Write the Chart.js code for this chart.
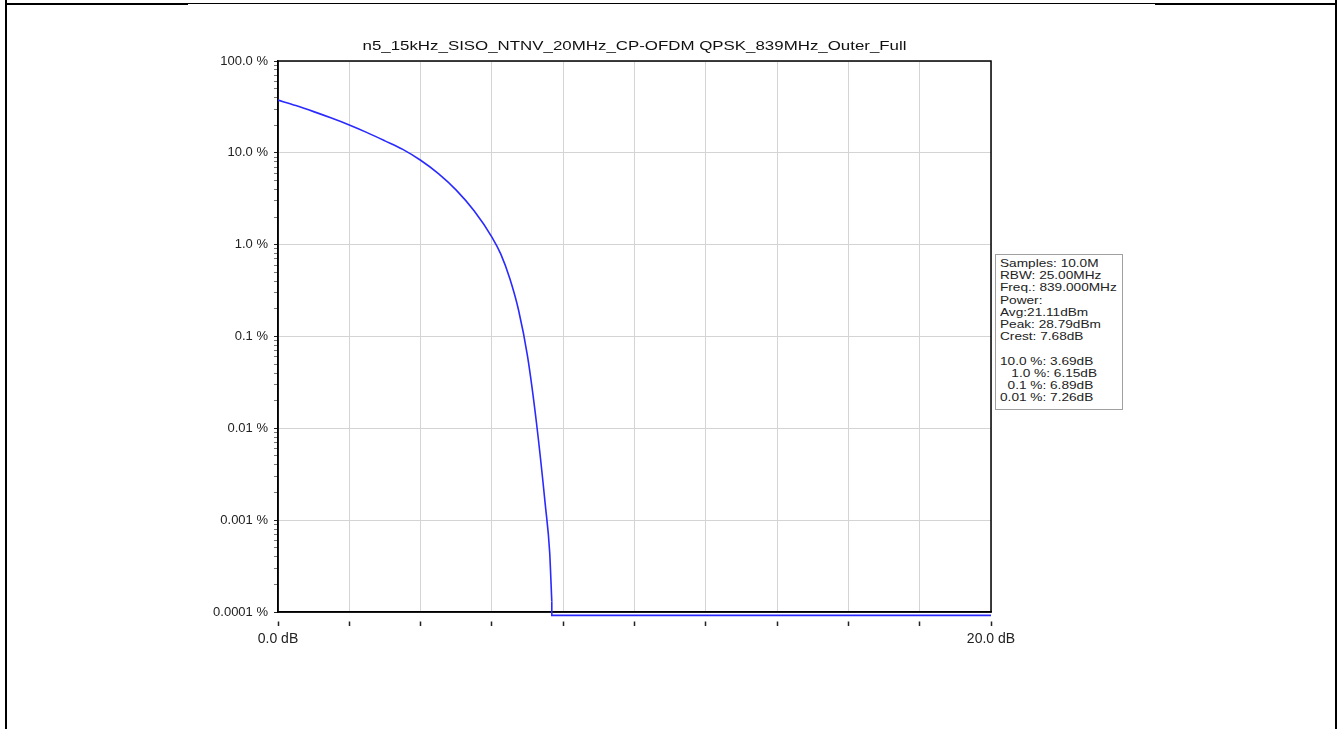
<!DOCTYPE html>
<html>
<head>
<meta charset="utf-8">
<title>CCDF</title>
<script src="https://cdn.jsdelivr.net/npm/chart.js@4/dist/chart.umd.min.js"></script>
<style>
    body { margin: 0; background: #fff; }
    #wrap { position: relative; width: 1338px; height: 729px; overflow: hidden; }
    #ccdfChart { position: absolute; left: 0; top: 0; }
    .edge { position: absolute; background: #000; }
    #infoBox {
        position: absolute; left: 995px; top: 254px; width: 126px; height: 154px;
        border: 1px solid #a0a0a0; background: #fff;
    }
    #infoText {
        position: absolute; left: 4px; top: 2px;
        font: 11px "Liberation Sans", Arial, sans-serif; line-height: 12.2px; color: #222;
        white-space: pre; transform: scaleX(1.24); transform-origin: 0 0;
    }
</style>
</head>
<body>
<div id="wrap">
    <canvas id="ccdfChart" width="1338" height="729"></canvas>
    <div class="edge" style="left:5px; top:0; width:2px; height:729px;"></div>
    <div class="edge" style="left:1335px; top:0; width:2px; height:729px;"></div>
    <div class="edge" style="left:5px; top:3px; width:183px; height:2px;"></div>
    <div class="edge" style="left:188px; top:3px; width:967px; height:1px;"></div>
    <div class="edge" style="left:1155px; top:3px; width:182px; height:2px;"></div>
    <div id="infoBox"><div id="infoText"></div></div>
</div>
<script>
// data
const chartTitle = 'n5_15kHz_SISO_NTNV_20MHz_CP-OFDM QPSK_839MHz_Outer_Full';

const ccdfDb  = [0, 0.5, 1, 1.5, 2, 2.5, 3, 3.5, 4, 4.5, 5, 5.5, 6, 6.25, 6.5, 6.75, 7, 7.25, 7.5, 7.62, 7.68];
const ccdfPct = [37.5, 32.7, 28.1, 23.9, 20.1, 16.6, 13.5, 10.9, 8.3, 5.94, 3.93, 2.34, 1.21, 0.788, 0.43, 0.192, 0.0608, 0.0115, 0.00144, 0.00045, 0.00013];

// drop to the floor after the peak, then flat to the end
const tailDb  = [7.68, 7.68, 20];
const tailPct = [0.00013, 0.000092, 0.000092];

const xTickValues = [0, 20];
const xTickLabels = ['0.0 dB', '20.0 dB'];
const yTicks      = [0.0001, 0.001, 0.01, 0.1, 1, 10, 100];
const yTickLabels = ['0.0001 %', '0.001 %', '0.01 %', '0.1 %', '1.0 %', '10.0 %', '100.0 %'];

const infoLines = [
    'Samples: 10.0M',
    'RBW: 25.00MHz',
    'Freq.: 839.000MHz',
    'Power:',
    'Avg:21.11dBm',
    'Peak: 28.79dBm',
    'Crest: 7.68dB',
    '',
    '10.0 %: 3.69dB',
    '   1.0 %: 6.15dB',
    '  0.1 %: 6.89dB',
    '0.01 %: 7.26dB'
];

document.getElementById('infoText').textContent = infoLines.join('\n');

function toPoints(xs, ys) {
    return xs.map(function (x, i) {
        return {x: x, y: ys[i]};
    });
}

// black box round the plot area + stretched title
const framePlugin = {
    id: 'frame',
    beforeDatasetsDraw: function (chart) {
        const a = chart.chartArea, ctx = chart.ctx;
        ctx.save();
        ctx.strokeStyle = '#000';
        ctx.lineWidth = 1.5;
        ctx.strokeRect(a.left, a.top, a.right - a.left, a.bottom - a.top);
        ctx.restore();
    },
    afterDraw: function (chart) {
        const a = chart.chartArea, ctx = chart.ctx;
        ctx.save();
        ctx.font = '13px "Liberation Sans", Arial, sans-serif';
        ctx.fillStyle = '#111';
        ctx.textBaseline = 'alphabetic';
        ctx.textAlign = 'center';
        const w = ctx.measureText(chartTitle).width;
        const sx = 544 / w;
        ctx.translate((a.left + a.right) / 2, 50);
        ctx.scale(sx, 1);
        ctx.fillText(chartTitle, 0, 0);
        ctx.restore();
    }
};

const ctx = document.getElementById('ccdfChart').getContext('2d');
new Chart(ctx, {
    type: 'line',
    data: {
        datasets: [{
            data: toPoints(ccdfDb, ccdfPct),
            borderColor: '#2a2aff',
            borderWidth: 1.6,
            pointRadius: 0,
            cubicInterpolationMode: 'monotone',
            fill: false
        }, {
            data: toPoints(tailDb, tailPct),
            borderColor: '#2a2aff',
            borderWidth: 1.6,
            pointRadius: 0,
            tension: 0,
            clip: 6,
            fill: false
        }]
    },
    plugins: [framePlugin],
    options: {
        responsive: false,
        animation: false,
        devicePixelRatio: 1,
        layout: {padding: {left: 178, right: 347, top: 61, bottom: 77}},
        plugins: {
            legend: {display: false},
            tooltip: {enabled: false},
            title: {display: false}
        },
        scales: {
            x: {
                type: 'linear',
                min: 0,
                max: 20,
                afterFit: function (scale) {
                    scale.height = 40;
                },
                ticks: {
                    stepSize: 2,
                    autoSkip: false,
                    maxRotation: 0,
                    padding: 5,
                    color: '#222',
                    font: {family: '"Liberation Sans", Arial, sans-serif', size: 14},
                    callback: function (value) {
                        const i = xTickValues.indexOf(value);
                        return i >= 0 ? xTickLabels[i] : '';
                    }
                },
                grid: {
                    color: '#d4d4d4',
                    lineWidth: 1,
                    tickColor: '#222',
                    tickWidth: 1.5,
                    tickLength: 14,
                    tickBorderDash: [0, 9, 5, 30]
                },
                border: {color: '#000', width: 1.5}
            },
            y: {
                type: 'logarithmic',
                min: 0.0001,
                max: 100,
                afterFit: function (scale) {
                    scale.width = 100;
                },
                afterBuildTicks: function (scale) {
                    const list = [];
                    yTicks.forEach(function (v, i) {
                        list.push({value: v});
                        if (i < yTicks.length - 1) {
                            for (let m = 2; m <= 9; m++) {
                                list.push({value: v * m, minor: true});
                            }
                        }
                    });
                    scale.ticks = list;
                },
                ticks: {
                    autoSkip: false,
                    padding: 6,
                    color: '#222',
                    font: {family: '"Liberation Sans", Arial, sans-serif', size: 13},
                    callback: function (value, index, ticks) {
                        if (ticks[index] && ticks[index].minor) {
                            return '';
                        }
                        const i = yTicks.indexOf(value);
                        return i >= 0 ? yTickLabels[i] : '';
                    }
                },
                grid: {
                    color: function (c) {
                        return c.tick && c.tick.minor ? 'rgba(0,0,0,0)' : '#d4d4d4';
                    },
                    lineWidth: 1,
                    tickColor: function (c) {
                        return c.tick && c.tick.minor ? '#777' : '#222';
                    },
                    tickLength: 4
                },
                border: {color: '#000', width: 1.5}
            }
        }
    }
});
</script>
</body>
</html>
